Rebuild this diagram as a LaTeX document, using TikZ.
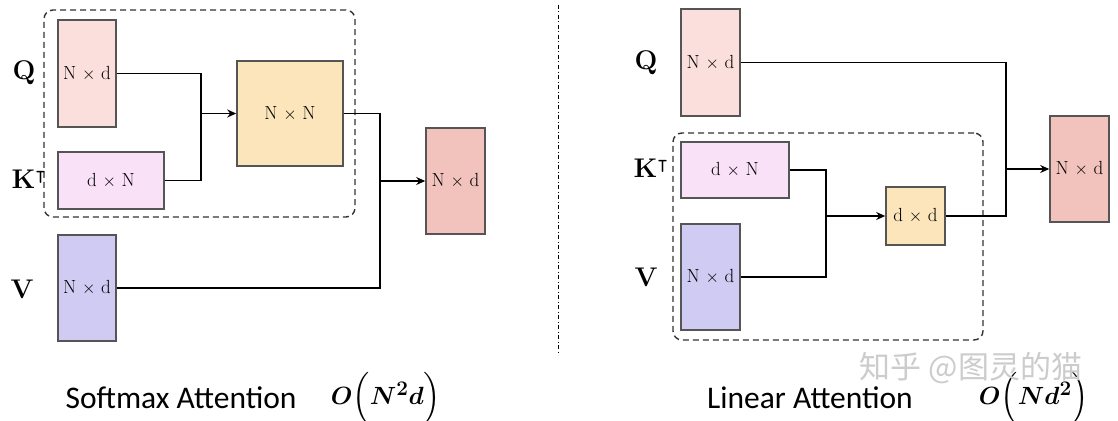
\documentclass[tikz,border=0pt]{standalone}
\usepackage{fontspec}
\usepackage{amsmath,amssymb,bm}
\newfontfamily\capfont{Carlito}
\newfontfamily\cjk{Noto Sans CJK SC}
\usetikzlibrary{arrows.meta}
\definecolor{qcol}{HTML}{FADFDC}
\definecolor{kcol}{HTML}{F9E1F8}
\definecolor{vcol}{HTML}{CFCBF3}
\definecolor{mcol}{HTML}{FCE5BA}
\definecolor{ocol}{HTML}{F2C3BD}
\definecolor{bcol}{HTML}{555555}
\tikzset{
  mat/.style={draw=bcol, line width=1.6pt, inner sep=0pt, font=\fontsize{19}{19}\selectfont},
  lbl/.style={font=\fontsize{27}{27}\selectfont\bfseries},
  conn/.style={line width=1.7pt, black},
  arr/.style={conn, -{Stealth[length=9pt,width=8pt]}},
  grp/.style={draw=black!80, line width=1.4pt, dash pattern=on 6pt off 4pt, rounded corners=9pt, inner sep=0pt},
  captext/.style={font=\fontsize{31.5}{31.5}\selectfont\capfont},
  cx/.style={font=\fontsize{29}{29}\selectfont},
}
\begin{document}
\begin{tikzpicture}[x=1pt,y=-1pt]
\useasboundingbox[fill=white] (0,0) rectangle (1118,420);
% ---------------- left: softmax attention
\node[grp, minimum width=311pt, minimum height=207pt] (g1) at (199.5,113.5) {};
\node[mat, fill=qcol, minimum width=58pt, minimum height=107pt] (q1) at (87,73.5) {N $\times$ d};
\node[mat, fill=kcol, minimum width=106pt, minimum height=57pt] (k1) at (111,180.5) {d $\times$ N};
\node[mat, fill=vcol, minimum width=58pt, minimum height=106pt] (v1) at (87,288) {N $\times$ d};
\node[mat, fill=mcol, minimum width=106pt, minimum height=105pt] (n1) at (290,113.5) {N $\times$ N};
\node[mat, fill=ocol, minimum width=59pt, minimum height=106pt] (o1) at (455.5,181) {N $\times$ d};
\node[lbl] (lq1) at (24,73) {Q};
\node[lbl] (lk1) at (29,179) {K$^{\intercal}$};
\node[lbl] (lv1) at (22,289) {V};
\coordinate (j1) at (201,113.5);
\coordinate (j2) at (380,181);
\draw[conn] (q1.east) -| (j1) |- (k1.east);
\draw[arr] (j1) -- (n1.west);
\draw[conn] (n1.east) -| (j2) |- (v1.east);
\draw[arr] (j2) -- (o1.west);
% divider
\coordinate (d1) at (558,5);
\coordinate (d2) at (558,355);
\draw[line width=0.9pt, dash pattern=on 4pt off 2.5pt on 1pt off 2.5pt] (d1) -- (d2);
% ---------------- right: linear attention
\node[grp, minimum width=310pt, minimum height=207pt] (g2) at (828,236.5) {};
\node[mat, fill=qcol, minimum width=59pt, minimum height=107pt] (q2) at (710.5,62.5) {N $\times$ d};
\node[mat, fill=kcol, minimum width=108pt, minimum height=56pt] (k2) at (735,170) {d $\times$ N};
\node[mat, fill=vcol, minimum width=59pt, minimum height=106pt] (v2) at (710.5,277) {N $\times$ d};
\node[mat, fill=mcol, minimum width=59pt, minimum height=58pt] (n2) at (915.5,216) {d $\times$ d};
\node[mat, fill=ocol, minimum width=59pt, minimum height=106pt] (o2) at (1079.5,169) {N $\times$ d};
\node[lbl] (lq2) at (646,63) {Q};
\node[lbl] (lk2) at (651,168) {K$^{\intercal}$};
\node[lbl] (lv2) at (646,277) {V};
\coordinate (j3) at (826,216);
\coordinate (j4) at (1006,169);
\draw[conn] (k2.east) -| (j3) |- (v2.east);
\draw[arr] (j3) -- (n2.west);
\draw[conn] (n2.east) -| (j4) |- (q2.east);
\draw[arr] (j4) -- (o2.west);
% captions
\node[captext] (c1) at (181,398) {Softmax Attention};
\node[cx] (m1) at (386,398) {$\bm{O\Bigl(N^{2}d\Bigr)}$};
\node[captext] (c2) at (810,398) {Linear Attention};
\node[cx] (m2) at (1034,398) {$\bm{O\Bigl(Nd^{2}\Bigr)}$};
\node[font=\fontsize{31}{31}\selectfont\cjk, text=black!20] (wm) at (971,368) {知乎 @图灵的猫};
\end{tikzpicture}
\end{document}
